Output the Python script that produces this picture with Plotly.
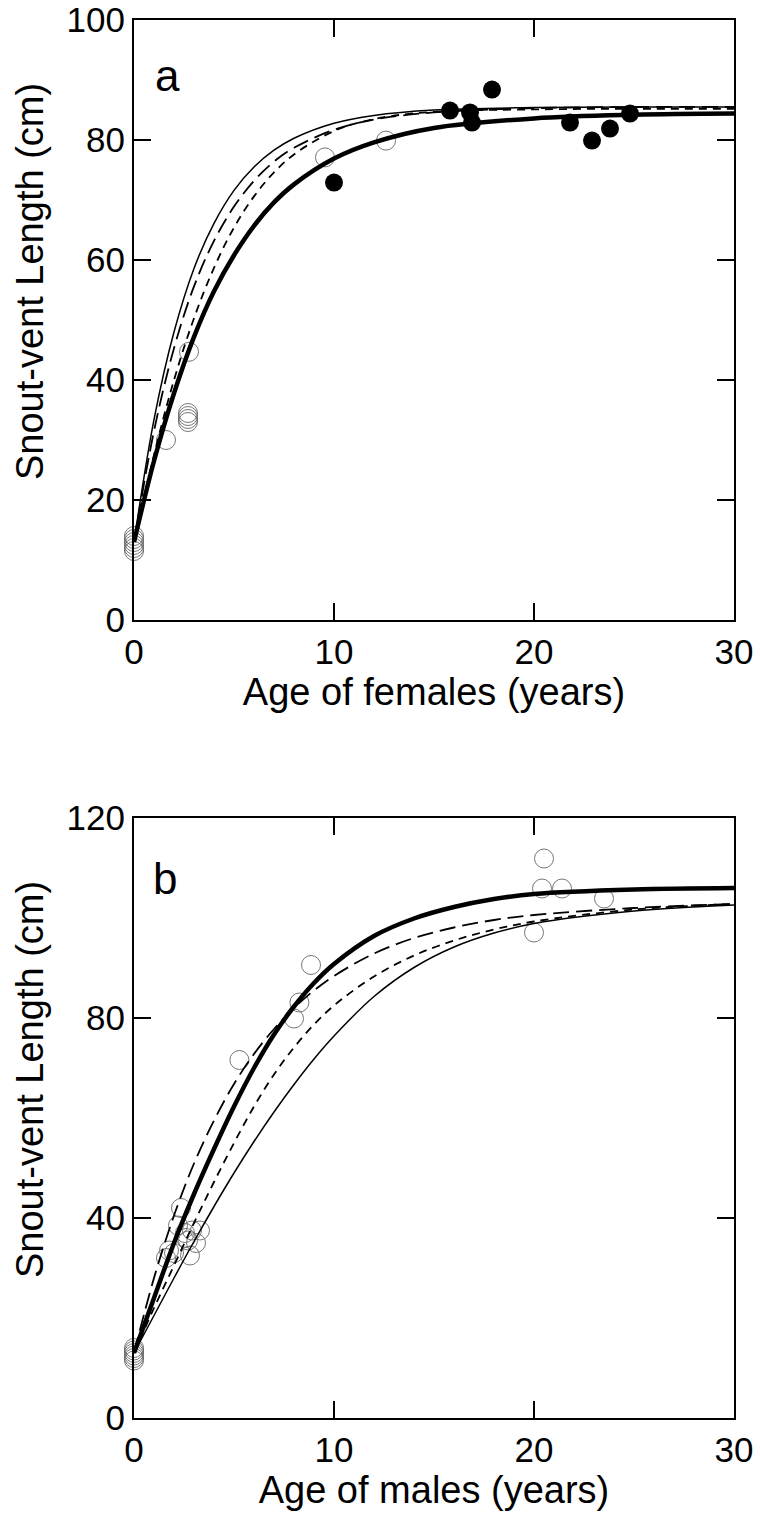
import plotly.graph_objects as go

# ---------------- Panel a (females) ----------------
a_open_age = [0, 0, 0, 0, 0, 0, 1.6, 2.7, 2.7, 2.7, 2.7, 2.75, 9.55, 12.6]
a_open_svl = [11.5, 12.0, 12.5, 13.0, 13.5, 14.0, 30.0, 33.0, 33.5, 34.0, 34.5, 44.7, 77.1, 79.9]
a_fill_age = [10.0, 15.8, 16.8, 16.9, 17.9, 21.8, 22.9, 23.8, 24.8]
a_fill_svl = [72.9, 84.9, 84.6, 82.9, 88.4, 82.9, 79.9, 81.9, 84.4]

a_curve_age = [0, 1, 2, 3, 4, 5, 6, 7, 8, 10, 12, 15, 20, 25, 30]
a_thick = [13, 26.5, 37.8, 47.2, 54.8, 60.8, 65.7, 69.6, 72.6, 76.9, 79.6, 82.0, 83.6, 84.2, 84.4]
a_thin = [13, 33.4, 48.0, 58.6, 66.1, 71.6, 75.5, 78.3, 80.3, 82.8, 84.1, 85.0, 85.4, 85.5, 85.5]
a_longdash = [13, 31.5, 45.3, 55.6, 63.2, 68.9, 73.2, 76.4, 78.7, 81.7, 83.4, 84.6, 85.3, 85.5, 85.5]
a_shortdash = [13, 27.5, 40.0, 50.3, 58.7, 65.4, 70.6, 74.6, 77.6, 81.5, 83.5, 84.7, 85.1, 85.2, 85.2]

# ---------------- Panel b (males) ----------------
b_open_age = [0, 0, 0, 0, 0, 0, 1.6, 1.75, 2.0, 2.2, 2.35, 2.55, 2.6, 2.7, 2.8, 2.9, 3.1, 3.3,
              5.27, 8.0, 8.27, 8.85, 20.0, 20.4, 20.5, 21.4, 23.5]
b_open_svl = [11.5, 12.0, 12.5, 13.0, 13.5, 14.0, 32.0, 33.5, 33.0, 38.5, 42.0, 37.0, 36.0, 35.5, 32.5, 37.5, 35.0, 37.5,
              71.6, 79.9, 83.1, 90.6, 97.1, 105.9, 111.9, 105.9, 103.9]

b_curve_age = [0, 1, 2, 3, 4, 5, 6, 7, 8, 9, 10, 12, 14, 16, 18, 20, 25, 30]
b_thick = [13, 24, 35, 44.8, 53.8, 62.3, 70.0, 76.7, 82.3, 87.0, 90.8, 96.4, 99.9, 102.2, 103.8, 104.8, 105.7, 106]
b_thin = [13, 20.5, 28, 35.3, 42.3, 49, 55.3, 61.2, 66.7, 71.8, 76.4, 84.3, 90.1, 94.2, 97.0, 98.9, 101.4, 102.6]
b_longdash = [13, 28.0, 40.5, 50.9, 59.5, 66.8, 72.8, 77.8, 82.0, 85.5, 88.4, 92.9, 96.0, 98.1, 99.6, 100.6, 102.0, 102.8]
b_shortdash = [13, 22, 30.5, 39, 47.2, 55, 62.3, 68.7, 74.1, 78.7, 82.5, 88.3, 92.5, 95.5, 97.7, 99.3, 101.7, 102.8]

y_title = "Snout-vent Length (cm)"
x_title_a = "Age of females (years)"
x_title_b = "Age of males (years)"

FONT = "Liberation Sans, Arial, sans-serif"

fig = go.Figure()

def add_curves(age, thick, thin, longd, shortd, xa, ya):
    fig.add_trace(go.Scatter(x=age, y=thin, mode="lines", xaxis=xa, yaxis=ya,
                             line=dict(color="black", width=1.5, shape="spline", smoothing=1.0)))
    fig.add_trace(go.Scatter(x=age, y=longd, mode="lines", xaxis=xa, yaxis=ya,
                             line=dict(color="black", width=1.8, dash="16px,7px", shape="spline", smoothing=1.0)))
    fig.add_trace(go.Scatter(x=age, y=shortd, mode="lines", xaxis=xa, yaxis=ya,
                             line=dict(color="black", width=1.8, dash="8px,6px", shape="spline", smoothing=1.0)))
    fig.add_trace(go.Scatter(x=age, y=thick, mode="lines", xaxis=xa, yaxis=ya,
                             line=dict(color="black", width=4.5, shape="spline", smoothing=1.0)))

open_marker = dict(symbol="circle-open", size=19, color="#666666", line=dict(width=0.9, color="#666666"))

# panel a
fig.add_trace(go.Scatter(x=a_open_age, y=a_open_svl, mode="markers", xaxis="x", yaxis="y",
                         marker=open_marker, cliponaxis=False))
add_curves(a_curve_age, a_thick, a_thin, a_longdash, a_shortdash, "x", "y")
fig.add_trace(go.Scatter(x=a_fill_age, y=a_fill_svl, mode="markers", xaxis="x", yaxis="y",
                         marker=dict(symbol="circle", size=18, color="black"), cliponaxis=False))

# panel b
fig.add_trace(go.Scatter(x=b_open_age, y=b_open_svl, mode="markers", xaxis="x2", yaxis="y2",
                         marker=open_marker, cliponaxis=False))
add_curves(b_curve_age, b_thick, b_thin, b_longdash, b_shortdash, "x2", "y2")

W, H = 760, 1520
xd = [134 / W, 734 / W]
ya_dom = [(H - 620) / H, (H - 20) / H]
yb_dom = [(H - 1418) / H, (H - 818) / H]

axis_common = dict(showline=True, linecolor="black", linewidth=2, mirror="ticks",
                   ticks="inside", ticklen=17, tickwidth=2, tickcolor="black",
                   showgrid=False, zeroline=False, automargin=False,
                   ticklabeloverflow="allow",
                   tickfont=dict(family=FONT, size=35, color="black"))

TFONT = dict(family=FONT, size=38, color="black")

fig.update_layout(
    width=W, height=H, margin=dict(l=0, r=0, t=0, b=0),
    paper_bgcolor="white", plot_bgcolor="white", showlegend=False,
    xaxis=dict(domain=xd, anchor="y", range=[0, 30], tickvals=[0, 10, 20, 30],
               title=dict(text=x_title_a, font=TFONT, standoff=6),
               **axis_common),
    yaxis=dict(domain=ya_dom, anchor="x", range=[0, 100], tickvals=[0, 20, 40, 60, 80, 100],
               **axis_common),
    xaxis2=dict(domain=xd, anchor="y2", range=[0, 30], tickvals=[0, 10, 20, 30],
                title=dict(text=x_title_b, font=TFONT, standoff=6),
                **axis_common),
    yaxis2=dict(domain=yb_dom, anchor="x2", range=[0, 120], tickvals=[0, 40, 80, 120],
                **axis_common),
    annotations=[
        dict(text=y_title, x=30 / W, y=(H - 282) / H, xref="paper", yref="paper",
             showarrow=False, textangle=-90, xanchor="center", yanchor="middle", font=TFONT),
        dict(text=y_title, x=30 / W, y=(H - 1080) / H, xref="paper", yref="paper",
             showarrow=False, textangle=-90, xanchor="center", yanchor="middle", font=TFONT),
        dict(text="a", x=1.65, y=90.7, xref="x", yref="y", showarrow=False, xanchor="center",
             font=dict(family=FONT, size=44, color="black")),
        dict(text="b", x=1.55, y=108, xref="x2", yref="y2", showarrow=False, xanchor="center",
             font=dict(family=FONT, size=44, color="black")),
    ],
)

fig.write_html("out.html", config={"displayModeBar": False},
               post_script="document.body.style.margin='0px';")
